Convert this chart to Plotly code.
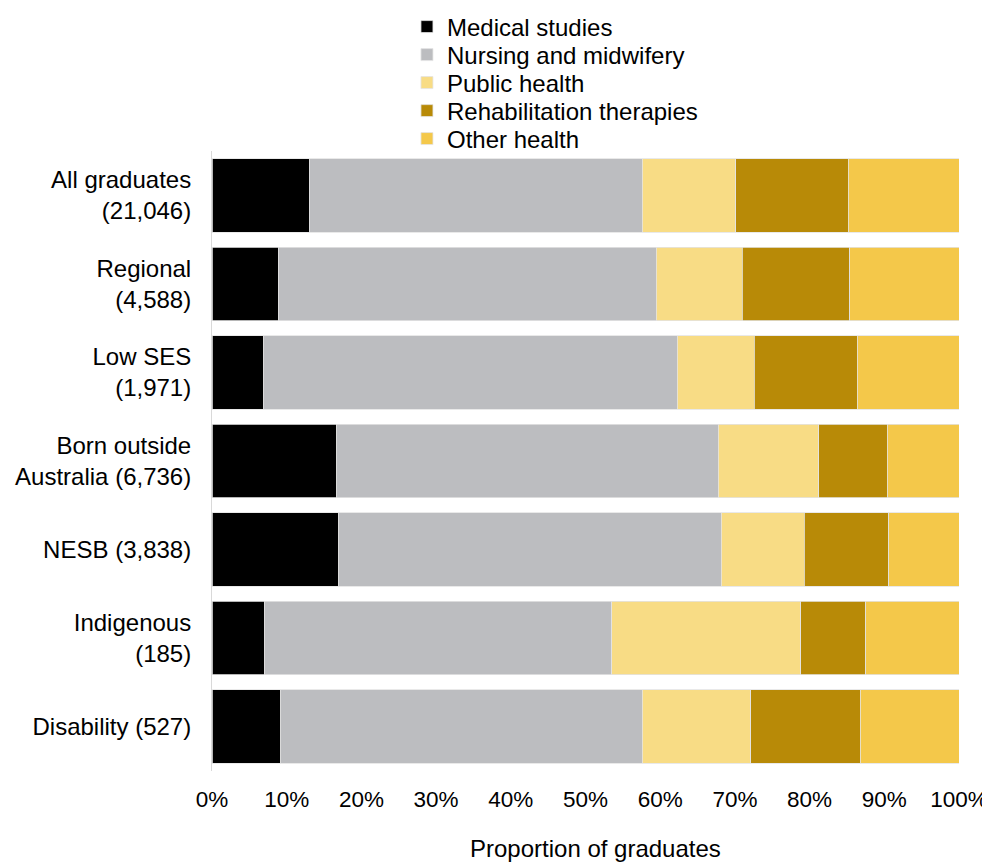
import plotly.graph_objects as go

categories = [
    "All graduates<br>(21,046)",
    "Regional<br>(4,588)",
    "Low SES<br>(1,971)",
    "Born outside<br>Australia (6,736)",
    "NESB (3,838)",
    "Indigenous<br>(185)",
    "Disability (527)",
]

series_names = [
    "Medical studies",
    "Nursing and midwifery",
    "Public health",
    "Rehabilitation therapies",
    "Other health",
]

medical = [13.0, 8.9, 6.9, 16.7, 17.0, 7.0, 9.2]
nursing = [44.6, 50.6, 55.4, 51.1, 51.2, 46.5, 48.4]
public_health = [12.5, 11.5, 10.3, 13.4, 11.1, 25.3, 14.5]
rehab = [15.1, 14.4, 13.8, 9.2, 11.3, 8.7, 14.7]
other = [14.8, 14.6, 13.6, 9.6, 9.4, 12.5, 13.2]

colors = ["#000000", "#BCBDC0", "#F8DC85", "#B88A07", "#F4C84A"]

tick_vals = [0, 10, 20, 30, 40, 50, 60, 70, 80, 90, 100]
tick_text = ["0%", "10%", "20%", "30%", "40%", "50%", "60%", "70%", "80%", "90%", "100%"]

FONT = "Liberation Sans, Arial, sans-serif"

fig = go.Figure()
legend_ids = ["legend", "legend2", "legend3", "legend4", "legend5"]
for name, vals, col, lid in zip(series_names, [medical, nursing, public_health, rehab, other], colors, legend_ids):
    fig.add_trace(go.Bar(
        y=categories, x=vals, name=name, orientation="h",
        marker=dict(color=col, line=dict(color="#E4E4E4", width=0.8)),
        legend=lid,
    ))

# first legend item positioned in container coords, the rest in paper coords
legend_pos = [(0.978, "container"), (1.1548, "paper"), (1.1097, "paper"),
              (1.0645, "paper"), (1.0194, "paper")]
layout_legends = {}
for lid, (ly, yr) in zip(legend_ids, legend_pos):
    layout_legends[lid] = dict(
        x=0.261, y=ly, xanchor="left", yanchor="middle",
        xref="paper", yref=yr,
        font=dict(size=24, family=FONT, color="#000000"),
        itemwidth=30, bgcolor="rgba(0,0,0,0)",
    )

fig.update_layout(
    barmode="stack",
    bargap=0.17,
    width=990, height=863,
    margin=dict(l=204, r=39, t=143, b=100),
    paper_bgcolor="white", plot_bgcolor="white",
    font=dict(family=FONT, size=24, color="#000000"),
    showlegend=True,
    **layout_legends,
)
fig.add_annotation(
    text="Proportion of graduates", xref="paper", yref="paper",
    x=0.514, y=-0.1258, xanchor="center", yanchor="middle",
    showarrow=False, font=dict(size=24, family=FONT, color="#000000"),
)
fig.update_xaxes(
    range=[0, 100], tickvals=tick_vals, ticktext=tick_text,
    showgrid=False, zeroline=False, showline=False, ticks="",
    tickfont=dict(size=22.5), fixedrange=True, automargin=False,
    ticklabelstandoff=12,
)
fig.update_yaxes(
    autorange="reversed", showgrid=False, zeroline=False,
    showline=True, linecolor="#D9D9D9", linewidth=1, ticks="",
    tickfont=dict(size=24), ticklabelstandoff=15, automargin=False,
)

fig.write_html("out.html")
